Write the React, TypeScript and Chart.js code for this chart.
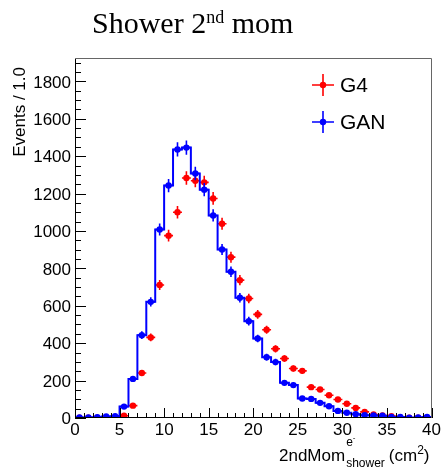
import React, { useEffect, useRef } from 'react';
import { Chart, registerables } from 'chart.js';

Chart.register(...registerables);

// ---- data ----
const X_MIN = 0;
const X_MAX = 40;
const BIN_WIDTH = 1;
const Y_MAX = 1925;

const g4Counts = [1, 1, 1, 2, 0, 12, 66, 241, 431, 711, 975, 1100, 1283, 1269, 1260, 1174, 1039, 860, 737, 639, 554, 472, 370, 318, 265, 252, 165, 152, 122, 99, 76, 54, 33, 19, 13, 10, 1, 1, 1, 1];
const ganCounts = [3, 3, 4, 8, 10, 61, 209, 443, 621, 1008, 1243, 1436, 1446, 1307, 1221, 1083, 901, 782, 643, 518, 425, 325, 299, 188, 176, 104, 102, 81, 63, 38, 28, 20, 15, 13, 12, 6, 6, 1, 3, 6];

const xTickValues = [0, 5, 10, 15, 20, 25, 30, 35, 40];
const yTickValues = [0, 200, 400, 600, 800, 1000, 1200, 1400, 1600, 1800];
const xMinorStep = 1;
const yMinorStep = 50;

const seriesNames = ['G4', 'GAN'];
const seriesColors = ['#ff0000', '#0000ff'];

const TITLE_MAIN = 'Shower 2';
const TITLE_SUP = 'nd';
const TITLE_END = ' mom';
const Y_TITLE = 'Events / 1.0';

const SANS = '"Liberation Sans", Arial, Helvetica, sans-serif';
const SERIF = '"Liberation Serif", "Times New Roman", serif';

const binCenters = ganCounts.map((_, i) => X_MIN + (i + 0.5) * BIN_WIDTH);

function stepPoints(counts: number[]) {
  const pts = counts.map((c, i) => ({ x: X_MIN + i * BIN_WIDTH, y: c }));
  pts.push({ x: X_MIN + counts.length * BIN_WIDTH, y: counts[counts.length - 1] });
  return pts;
}

const errorData: Record<string, { counts: number[]; color: string }> = {
  G4: { counts: g4Counts, color: seriesColors[0] },
  GAN: { counts: ganCounts, color: seriesColors[1] },
};

const rootPlugin = {
  id: 'rootStyle',
  afterDatasetDraw(chart: any, args: any) {
    const ds = chart.data.datasets[args.index];
    const info = errorData[ds.label];
    if (!info || ds.isStep) return;
    const { ctx, scales } = chart;
    const xs = scales.x;
    const ys = scales.y;
    ctx.save();
    ctx.beginPath();
    const a = chart.chartArea;
    ctx.rect(a.left, a.top, a.right - a.left, a.bottom - a.top);
    ctx.clip();
    ctx.strokeStyle = info.color;
    ctx.lineWidth = 1.6;
    info.counts.forEach((c, i) => {
      const xc = binCenters[i];
      const err = Math.sqrt(c);
      const px = xs.getPixelForValue(xc);
      const py = ys.getPixelForValue(c);
      const x0 = xs.getPixelForValue(xc - BIN_WIDTH / 2);
      const x1 = xs.getPixelForValue(xc + BIN_WIDTH / 2);
      const y0 = ys.getPixelForValue(c - err);
      const y1 = ys.getPixelForValue(c + err);
      ctx.beginPath();
      ctx.moveTo(x0, py);
      ctx.lineTo(x1, py);
      ctx.moveTo(px, y0);
      ctx.lineTo(px, y1);
      ctx.stroke();
    });
    ctx.restore();
  },
  afterDraw(chart: any) {
    const { ctx, scales, chartArea: a } = chart;
    const xs = scales.x;
    const ys = scales.y;
    ctx.save();
    // frame
    ctx.strokeStyle = '#000';
    ctx.lineWidth = 1;
    ctx.beginPath();
    ctx.moveTo(Math.round(a.left) + 0.5, Math.round(a.top) + 0.5);
    ctx.lineTo(Math.round(a.left) + 0.5, Math.round(a.bottom) - 0.5);
    ctx.lineTo(Math.round(a.right) - 0.5, Math.round(a.bottom) - 0.5);
    ctx.stroke();
    ctx.strokeStyle = '#666';
    ctx.beginPath();
    ctx.moveTo(Math.round(a.left) + 0.5, Math.round(a.top) + 0.5);
    ctx.lineTo(Math.round(a.right) - 0.5, Math.round(a.top) + 0.5);
    ctx.lineTo(Math.round(a.right) - 0.5, Math.round(a.bottom) - 0.5);
    ctx.stroke();

    // ticks
    ctx.strokeStyle = '#000';
    ctx.beginPath();
    for (let v = X_MIN; v <= X_MAX + 1e-9; v += xMinorStep) {
      const major = xTickValues.includes(v);
      const px = Math.round(xs.getPixelForValue(v)) + 0.5;
      ctx.moveTo(px, a.bottom);
      ctx.lineTo(px, a.bottom - (major ? 10 : 5));
    }
    for (let v = 0; v <= Y_MAX; v += yMinorStep) {
      const major = yTickValues.includes(v);
      const py = Math.round(ys.getPixelForValue(v)) + 0.5;
      ctx.moveTo(a.left, py);
      ctx.lineTo(a.left + (major ? 11 : 6), py);
    }
    ctx.stroke();

    // title
    ctx.fillStyle = '#000';
    ctx.textBaseline = 'alphabetic';
    ctx.textAlign = 'left';
    let tx = 92;
    ctx.font = `30px ${SERIF}`;
    ctx.fillText(TITLE_MAIN, tx, 33);
    tx += ctx.measureText(TITLE_MAIN).width;
    ctx.font = `18px ${SERIF}`;
    ctx.fillText(TITLE_SUP, tx, 23);
    tx += ctx.measureText(TITLE_SUP).width;
    ctx.font = `30px ${SERIF}`;
    ctx.fillText(TITLE_END, tx, 33);

    // y title
    ctx.save();
    ctx.translate(20, 67);
    ctx.rotate(-Math.PI / 2);
    ctx.font = `17px ${SANS}`;
    ctx.textAlign = 'right';
    ctx.textBaseline = 'middle';
    ctx.fillText(Y_TITLE, 0, 0);
    ctx.restore();

    // x title: 2ndMom^{e-}_{shower} (cm^2)
    let xx = 279;
    const base = 461;
    ctx.font = `17px ${SANS}`;
    ctx.fillText('2ndMom', xx, base);
    xx += ctx.measureText('2ndMom').width + 1;
    ctx.font = `12px ${SANS}`;
    ctx.fillText('e', xx, base - 15);
    const ew = ctx.measureText('e').width;
    ctx.font = `8px ${SANS}`;
    ctx.fillText('-', xx + ew, base - 21);
    ctx.font = `12px ${SANS}`;
    ctx.fillText('shower', xx, base + 6);
    xx += ctx.measureText('shower').width + 4;
    ctx.font = `17px ${SANS}`;
    ctx.fillText('(cm', xx, base);
    xx += ctx.measureText('(cm').width;
    ctx.font = `12px ${SANS}`;
    ctx.fillText('2', xx, base - 7);
    xx += ctx.measureText('2').width;
    ctx.font = `17px ${SANS}`;
    ctx.fillText(')', xx, base);

    // legend
    const legendY = [85, 122];
    seriesNames.forEach((name, k) => {
      const cx = 323;
      const cy = legendY[k];
      ctx.strokeStyle = seriesColors[k];
      ctx.fillStyle = seriesColors[k];
      ctx.lineWidth = 1.6;
      ctx.beginPath();
      ctx.moveTo(cx - 11, cy);
      ctx.lineTo(cx + 11, cy);
      ctx.moveTo(cx, cy - 11);
      ctx.lineTo(cx, cy + 11);
      ctx.stroke();
      ctx.beginPath();
      ctx.arc(cx, cy, 3.2, 0, Math.PI * 2);
      ctx.fill();
      ctx.fillStyle = '#000';
      ctx.font = `21px ${SANS}`;
      ctx.textAlign = 'left';
      ctx.textBaseline = 'middle';
      ctx.fillText(name, 340, cy + 1);
    });
    ctx.restore();
  },
};

export default function App() {
  const canvasRef = useRef<HTMLCanvasElement | null>(null);

  useEffect(() => {
    const canvas = canvasRef.current;
    if (!canvas) return;
    const chart = new Chart(canvas, {
      type: 'scatter',
      data: {
        datasets: [
          {
            label: 'GAN',
            data: binCenters.map((x, i) => ({ x, y: ganCounts[i] })),
            backgroundColor: seriesColors[1],
            borderColor: seriesColors[1],
            borderWidth: 0,
            pointRadius: 3.2,
            showLine: false,
            order: 0,
          } as any,
          {
            label: 'GAN',
            isStep: true,
            type: 'line',
            data: stepPoints(ganCounts),
            borderColor: seriesColors[1],
            borderWidth: 2,
            pointRadius: 0,
            stepped: 'before',
            fill: false,
            order: 2,
          } as any,
          {
            label: 'G4',
            data: binCenters.map((x, i) => ({ x, y: g4Counts[i] })),
            backgroundColor: seriesColors[0],
            borderColor: seriesColors[0],
            borderWidth: 0,
            pointRadius: 3.2,
            showLine: false,
            order: 3,
          } as any,
        ],
      },
      options: {
        animation: false,
        responsive: false,
        devicePixelRatio: 1,
        layout: { padding: { left: 0, top: 58, right: 9.5, bottom: 0 } },
        plugins: { legend: { display: false }, tooltip: { enabled: false }, title: { display: false } },
        scales: {
          x: {
            type: 'linear',
            min: X_MIN,
            max: X_MAX,
            grid: { display: false, drawTicks: false },
            border: { display: false },
            afterBuildTicks: (s: any) => {
              s.ticks = xTickValues.map((v) => ({ value: v }));
            },
            ticks: {
              font: { family: SANS, size: 17 },
              color: '#000',
              padding: 2,
              maxRotation: 0,
              autoSkip: false,
              callback: (v: any) => String(v),
            },
            afterFit: (s: any) => {
              s.height = 50;
              s.paddingLeft = 0;
              s.paddingRight = 0;
            },
          },
          y: {
            type: 'linear',
            min: 0,
            max: Y_MAX,
            grid: { display: false, drawTicks: false },
            border: { display: false },
            afterBuildTicks: (s: any) => {
              s.ticks = yTickValues.map((v) => ({ value: v }));
            },
            ticks: {
              font: { family: SANS, size: 17 },
              color: '#000',
              padding: 4,
              labelOffset: 1.5,
              autoSkip: false,
              callback: (v: any) => String(v),
            },
            afterFit: (s: any) => {
              s.width = 75;
              s.paddingTop = 0;
              s.paddingBottom = 0;
            },
          },
        },
      } as any,
      plugins: [rootPlugin],
    });
    return () => chart.destroy();
  }, []);

  return (
    <div style={{ position: 'fixed', left: 0, top: 0, width: 441, height: 468, background: '#fff' }}>
      <canvas ref={canvasRef} width={441} height={468} style={{ display: 'block' }} />
    </div>
  );
}
